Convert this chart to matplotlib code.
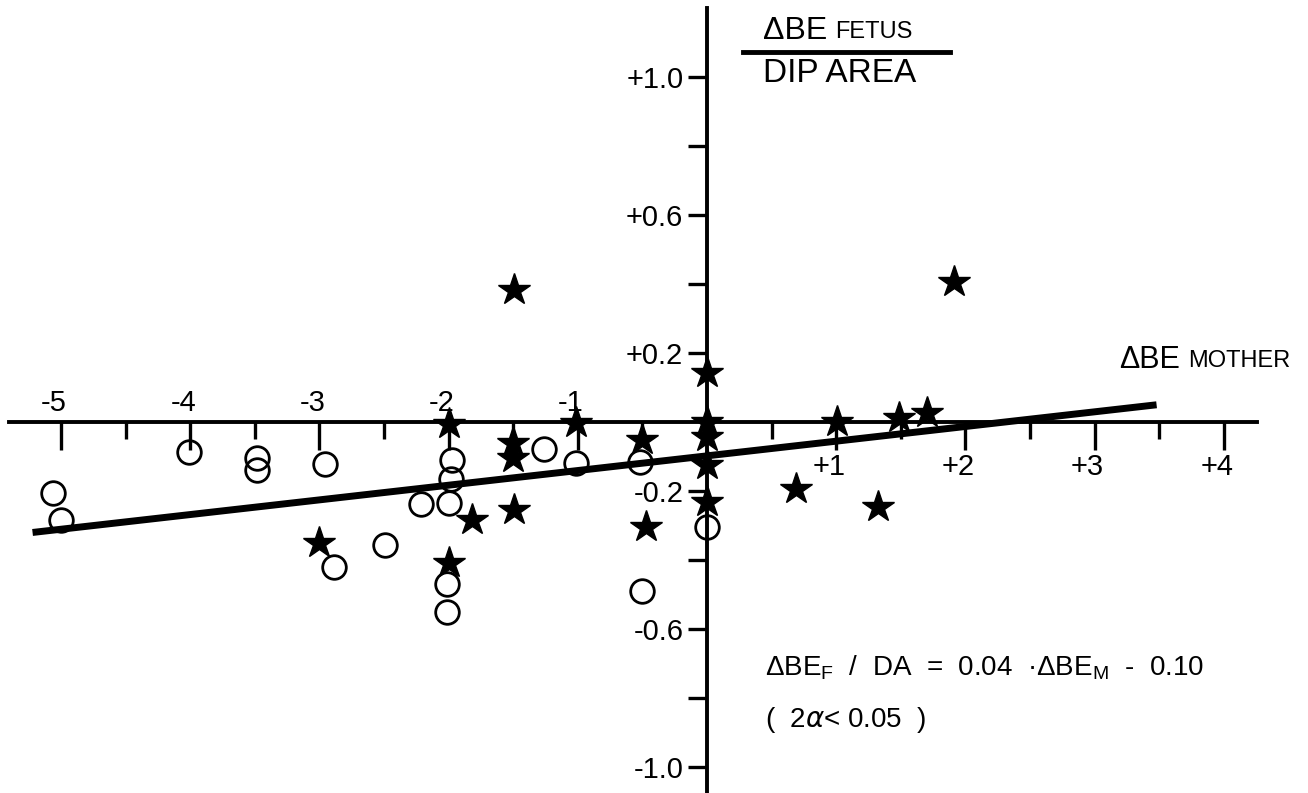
import matplotlib
matplotlib.use("Agg")
import matplotlib.pyplot as plt
from matplotlib.lines import Line2D

plt.rcParams['font.family'] = ['Liberation Sans', 'DejaVu Sans']
plt.rcParams['mathtext.fontset'] = 'dejavusans'

# open circles
circ_x = [-5.06, -5.00, -4.01, -3.48, -3.48, -2.96, -2.89, -2.49, -2.21, -2.00,
          -1.97, -1.98, -2.01, -2.01, -1.26, -1.01, -0.52, -0.50, 0.00]
circ_y = [-0.206, -0.284, -0.087, -0.104, -0.139, -0.122, -0.420, -0.357, -0.238, -0.235,
          -0.110, -0.165, -0.470, -0.550, -0.078, -0.119, -0.116, -0.490, -0.304]

# filled stars
star_x = [-1.49, 1.91, 0.00, -2.00, -1.50, -1.50, -1.01, -0.50, 0.00, 0.00,
          0.00, 0.00, -1.82, -1.49, -3.00, -2.00, -0.47, 1.01, 1.49, 1.70,
          0.69, 1.32]
star_y = [0.383, 0.406, 0.142, -0.006, -0.061, -0.104, -0.003, -0.052, 0.000, -0.043,
          -0.125, -0.232, -0.284, -0.255, -0.351, -0.409, -0.304, 0.000, 0.012, 0.026,
          -0.194, -0.246]

# regression line end points
fit_x = [-5.22, 3.48]
fit_y = [-0.32, 0.05]

xticks = [-5, -4, -3, -2, -1, 1, 2, 3, 4]
xtick_labels = ['-5', '-4', '-3', '-2', '-1', '+1', '+2', '+3', '+4']
xminor = [-4.5, -3.5, -2.5, -1.5, -0.5, 0.5, 1.5, 2.5, 3.5]
yticks = [1.0, 0.8, 0.6, 0.4, 0.2, -0.2, -0.4, -0.6, -0.8, -1.0]
ytick_labels = ['+1.0', '', '+0.6', '', '+0.2', '-0.2', '', '-0.6', '', '-1.0']

W, H = 1308, 793
fig = plt.figure(figsize=(W / 100, H / 100), dpi=100)
ax = fig.add_axes([0, 0, 1, 1])
ax.set_xlim(-5.472, 4.652)
ax.set_ylim(-1.075, 1.223)

for s in ['top', 'right']:
    ax.spines[s].set_visible(False)
ax.spines['bottom'].set_position(('data', 0))
ax.spines['left'].set_position(('data', 0))
ax.spines['bottom'].set_bounds(-5.40, 4.26)
ax.spines['left'].set_bounds(-1.075, 1.20)
ax.spines['bottom'].set_linewidth(2.8)
ax.spines['left'].set_linewidth(2.8)

ax.set_xticks(xticks)
ax.set_xticks(xminor, minor=True)
ax.tick_params(axis='x', which='major', direction='out', length=20, width=2.4, labelbottom=False)
ax.tick_params(axis='x', which='minor', direction='out', length=12, width=2.4)
ax.set_yticks(yticks)
ax.set_yticklabels(ytick_labels)
ax.tick_params(axis='y', direction='out', length=14, width=2.4, pad=3, labelsize=21)

for x, lab in zip(xticks, xtick_labels):
    dy = 19 if x < 0 else -45
    ax.annotate(lab, xy=(x, 0), xytext=(-7, dy), textcoords='offset pixels',
                ha='center', va='center', fontsize=21)

ax.plot(fit_x, fit_y, color='black', lw=5, solid_capstyle='butt', zorder=3)
ax.plot(circ_x, circ_y, 'o', ms=17, mfc='none', mec='black', mew=2, zorder=4)
ax.plot(star_x, star_y, '*', ms=24, color='black', mec='black', zorder=5)

def fx(px):
    return px / W

def fy(py):
    return 1 - py / H

# y axis title as a fraction
fig.text(fx(827), fy(31), 'ΔBE', fontsize=23, va='center', ha='right')
fig.text(fx(835), fy(32), 'FETUS', fontsize=17, va='center', ha='left')
fig.add_artist(Line2D([fx(743), fx(950)], [fy(52), fy(52)], color='black', lw=3.5))
fig.text(fx(840), fy(74), 'DIP AREA', fontsize=24, va='center', ha='center')

# x axis title
fig.text(fx(1180), fy(360), 'ΔBE', fontsize=22, va='center', ha='right')
fig.text(fx(1188), fy(361), 'MOTHER', fontsize=17, va='center', ha='left')

# regression equation
fig.text(fx(765), fy(668),
         r'ΔBE$_\mathregular{F}$  /  DA  =  0.04  ·ΔBE$_\mathregular{M}$  -  0.10',
         fontsize=20, va='center', ha='left')
fig.text(fx(765), fy(720), r'(  2$\alpha$< 0.05  )', fontsize=20, va='center', ha='left')

fig.savefig('out.png', dpi=100, facecolor='white')
